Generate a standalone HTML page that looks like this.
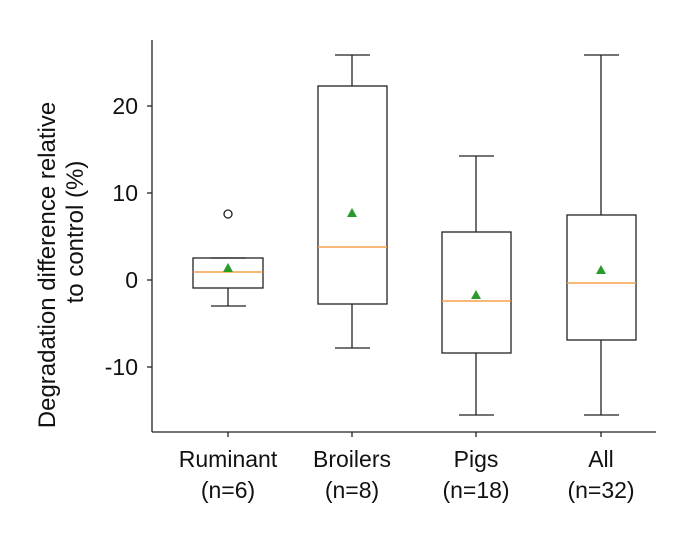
<!DOCTYPE html>
<html><head><style>body{margin:0;background:#fff}</style></head><body>
<svg width="696" height="535" xmlns="http://www.w3.org/2000/svg" font-family="Liberation Sans, sans-serif">
<g stroke="#222" stroke-width="1.3" fill="none">
<line x1="152" y1="40" x2="152" y2="432"/>
<line x1="152" y1="432" x2="656" y2="432"/>
<line x1="147" y1="106" x2="152" y2="106"/>
<line x1="147" y1="193" x2="152" y2="193"/>
<line x1="147" y1="280" x2="152" y2="280"/>
<line x1="147" y1="367" x2="152" y2="367"/>
<line x1="228" y1="432" x2="228" y2="437"/>
<line x1="352" y1="432" x2="352" y2="437"/>
<line x1="476" y1="432" x2="476" y2="437"/>
<line x1="601" y1="432" x2="601" y2="437"/>
<rect x="193" y="258" width="70" height="30"/>
<line x1="228" y1="288" x2="228" y2="306"/><line x1="211" y1="306" x2="246" y2="306"/>
<line x1="211" y1="258" x2="246" y2="258"/>
<circle cx="228" cy="214" r="4"/>
<rect x="318" y="86" width="69" height="218"/>
<line x1="352" y1="86" x2="352" y2="55"/><line x1="335" y1="55" x2="370" y2="55"/>
<line x1="352" y1="304" x2="352" y2="348"/><line x1="335" y1="348" x2="370" y2="348"/>
<rect x="442" y="232" width="69" height="121"/>
<line x1="476" y1="232" x2="476" y2="156"/><line x1="459" y1="156" x2="494" y2="156"/>
<line x1="476" y1="353" x2="476" y2="415"/><line x1="459" y1="415" x2="494" y2="415"/>
<rect x="567" y="215" width="69" height="125"/>
<line x1="601" y1="215" x2="601" y2="55"/><line x1="584" y1="55" x2="619" y2="55"/>
<line x1="601" y1="340" x2="601" y2="415"/><line x1="584" y1="415" x2="619" y2="415"/>
</g>
<g stroke="#f5a04a" stroke-width="1.5">
<line x1="193" y1="272" x2="263" y2="272"/>
<line x1="318" y1="247" x2="387" y2="247"/>
<line x1="442" y1="301" x2="511" y2="301"/>
<line x1="567" y1="283" x2="636" y2="283"/>
</g>
<g fill="#2a9a2a">
<polygon points="228,263 223,272 233,272"/>
<polygon points="352,208 347,217 357,217"/>
<polygon points="476,290 471,299 481,299"/>
<polygon points="601,265 596,274 606,274"/>
</g>
<g font-size="23" fill="#111" text-anchor="end">
<text x="138" y="114">20</text>
<text x="138" y="201">10</text>
<text x="138" y="288">0</text>
<text x="138" y="375">-10</text>
</g>
<g font-size="23" fill="#111" text-anchor="middle">
<text x="228" y="467">Ruminant</text><text x="228" y="498">(n=6)</text>
<text x="352" y="467">Broilers</text><text x="352" y="498">(n=8)</text>
<text x="476" y="467">Pigs</text><text x="476" y="498">(n=18)</text>
<text x="601" y="467">All</text><text x="601" y="498">(n=32)</text>
</g>
<g font-size="24" fill="#111" text-anchor="middle">
<text transform="translate(55,265) rotate(-90)">Degradation difference relative</text>
<text transform="translate(83,232) rotate(-90)">to control (%)</text>
</g>
</svg>
</body></html>
